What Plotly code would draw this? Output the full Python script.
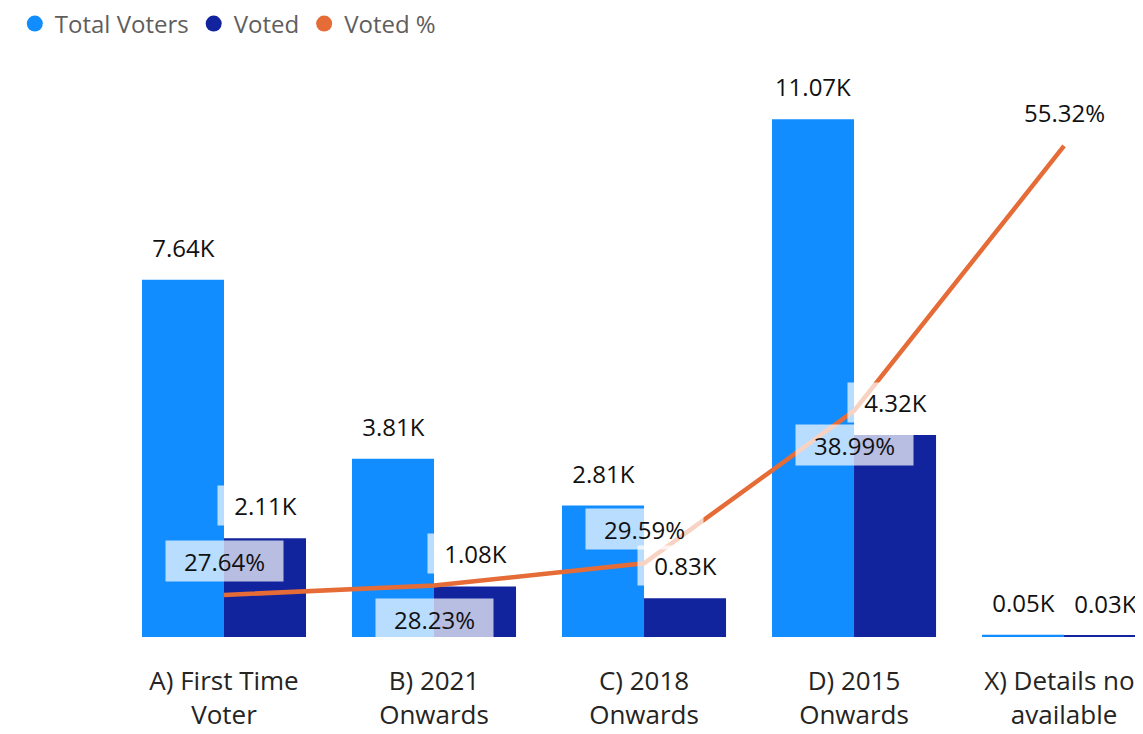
import plotly.graph_objects as go

categories = ["A) First Time<br>Voter", "B) 2021<br>Onwards", "C) 2018<br>Onwards",
              "D) 2015<br>Onwards", "X) Details not<br>available"]
total_voters = [7640, 3810, 2810, 11070, 50]
voted = [2110, 1080, 830, 4320, 30]
voted_pct = [27.64, 28.23, 29.59, 38.99, 55.32]
pct_label_side = ["above", "below", "above", "below", "above"]

C_TOTAL = "#118DFF"
C_VOTED = "#12239E"
C_PCT = "#E66C37"
FONT = "Open Sans"
LABEL_BG = "rgba(255,255,255,0.7)"


def k_fmt(v):
    return f"{v / 1000:.2f}K"


fig = go.Figure()
fig.add_trace(go.Bar(x=categories, y=total_voters, name="Total Voters",
                     marker=dict(color=C_TOTAL, line_width=0), showlegend=False, yaxis="y"))
fig.add_trace(go.Bar(x=categories, y=voted, name="Voted",
                     marker=dict(color=C_VOTED, line_width=0), showlegend=False, yaxis="y"))
fig.add_trace(go.Scatter(x=categories, y=voted_pct, name="Voted %", mode="lines",
                         line=dict(color=C_PCT, width=4.5), showlegend=False, yaxis="y2"))

# legend entries with round symbols
for name, col in [("Total Voters", C_TOTAL), ("Voted", C_VOTED), ("Voted %", C_PCT)]:
    fig.add_trace(go.Scatter(x=[None], y=[None], mode="markers", name=name,
                             marker=dict(color=col, size=20, symbol="circle"),
                             showlegend=True))

annotations = []
label_font = dict(family=FONT, size=24, color="#111111")
for cat, tv, vv in zip(categories, total_voters, voted):
    for val, shift in [(tv, -41), (vv, 41)]:
        txt = k_fmt(val)
        annotations.append(dict(
            x=cat, y=val, xref="x", yref="y", text=txt, showarrow=False,
            xshift=shift, yshift=12, yanchor="bottom", font=label_font,
            bgcolor=LABEL_BG, width=19 * len(txt), height=39, borderpad=0))

for cat, p, side in zip(categories, voted_pct, pct_label_side):
    txt = f"{p:.2f}%"
    annotations.append(dict(
        x=cat, y=p, xref="x", yref="y2", text=txt, showarrow=False,
        yshift=13 if side == "above" else -13,
        yanchor="bottom" if side == "above" else "top",
        font=label_font, bgcolor=LABEL_BG, width=19.5 * len(txt), height=40, borderpad=0))

fig.update_layout(
    width=1135, height=726,
    margin=dict(l=111, r=0, t=52, b=97),
    paper_bgcolor="white", plot_bgcolor="white",
    barmode="group", bargap=0.219, bargroupgap=0,
    font=dict(family=FONT, size=24, color="#252423"),
    annotations=annotations,
    legend=dict(orientation="h", xref="container", yref="container",
                x=0.006, y=0.978, xanchor="left", yanchor="middle",
                font=dict(family=FONT, size=24, color="#605E5C")),
    xaxis=dict(range=[-0.5, 4.376], showgrid=False, showline=False, ticks="",
               zeroline=False, ticklabelstandoff=26,
               tickfont=dict(family=FONT, size=26, color="#252423")),
    yaxis=dict(range=[0, 12337], visible=False, showgrid=False, zeroline=False),
    yaxis2=dict(range=[25.05, 60.62], overlaying="y", side="right", visible=False,
                showgrid=False, zeroline=False),
)

fig.write_html("out.html")
